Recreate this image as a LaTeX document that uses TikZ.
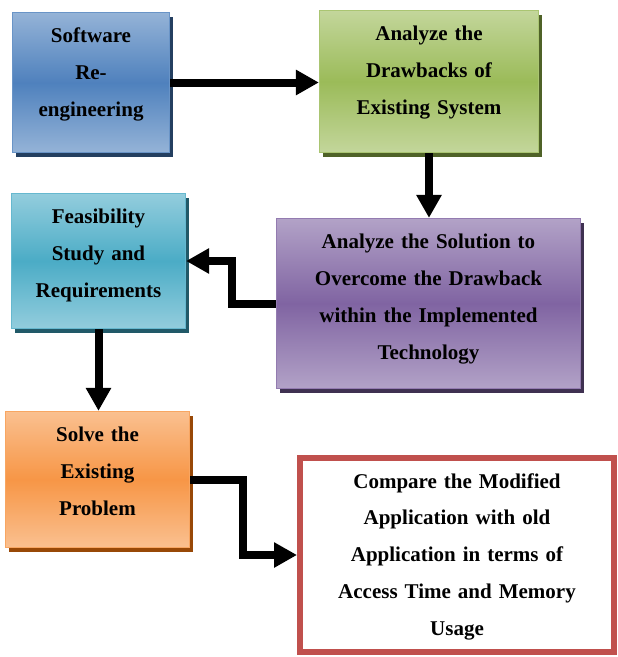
\documentclass[tikz,border=0pt]{standalone}
\usepackage{fontspec}
\setmainfont{Liberation Serif}
\usetikzlibrary{arrows.meta,shadows}
\definecolor{bluL}{HTML}{95B3D7}\definecolor{bluM}{HTML}{4F81BD}\definecolor{bluS}{HTML}{243F60}
\definecolor{grnL}{HTML}{C3D69B}\definecolor{grnM}{HTML}{9BBB59}\definecolor{grnS}{HTML}{4F6228}
\definecolor{teaL}{HTML}{93CDDD}\definecolor{teaM}{HTML}{4BACC6}\definecolor{teaS}{HTML}{215968}
\definecolor{purL}{HTML}{B2A2C7}\definecolor{purM}{HTML}{8064A2}\definecolor{purS}{HTML}{3F3151}
\definecolor{ornL}{HTML}{FAC090}\definecolor{ornM}{HTML}{F79646}\definecolor{ornS}{HTML}{984807}
\definecolor{redB}{HTML}{C0504D}
\tikzset{
  gbox/.style n args={3}{draw=#2!85!white, line width=1.2pt, inner sep=0pt,
    top color=#1, bottom color=#1, middle color=#2,
    general shadow={fill=#3, shadow xshift=3pt, shadow yshift=-4pt}},
  btxt/.style={anchor=base, inner sep=0pt, align=center, text width=310pt,
    font=\fontsize{21}{36.8}\selectfont\bfseries, text=black},
  arr/.style={line width=8pt, -{Triangle[width=24pt,length=23pt]}}
}
\begin{document}
\begin{tikzpicture}[x=1pt,y=-1pt]
\useasboundingbox (0,0) rectangle (618,657);
\node[gbox={bluL}{bluM}{bluS}, minimum width=157pt, minimum height=140pt] (b1) at (91,82.5) {};
\node[gbox={grnL}{grnM}{grnS}, minimum width=219pt, minimum height=142pt] (b2) at (429,81.5) {};
\node[gbox={purL}{purM}{purS}, minimum width=304pt, minimum height=170pt] (b3) at (428.5,303.5) {};
\node[gbox={teaL}{teaM}{teaS}, minimum width=174pt, minimum height=135pt] (b4) at (98.5,261) {};
\node[gbox={ornL}{ornM}{ornS}, minimum width=184pt, minimum height=136pt] (b5) at (97.5,479.5) {};
\node[draw=redB, line width=6pt, fill=white, inner sep=0pt, minimum width=314pt, minimum height=194pt] (b6) at (457,555) {};

\node[btxt, yshift=-31pt] (t1) at (b1.north) {Software\\Re-\\engineering};
\node[btxt, yshift=-31pt] (t2) at (b2.north) {Analyze the\\Drawbacks of\\Existing System};
\node[btxt, yshift=-31pt] (t3) at (b3.north) {Analyze the Solution to\\Overcome the Drawback\\within the Implemented\\Technology};
\node[btxt, yshift=-31pt] (t4) at (b4.north) {Feasibility\\Study and\\Requirements};
\node[btxt, yshift=-31pt] (t5) at (b5.north) {Solve the\\Existing\\Problem};
\node[btxt, yshift=-33pt] (t6) at (b6.north) {Compare the Modified\\Application with old\\Application in terms of\\Access Time and Memory\\Usage};

\coordinate (k3) at (232,0);
\coordinate (k5) at (243,0);
\draw[arr] (b1.east) -- (b1.east -| b2.west);
\draw[arr] (b2.south) -- (b2.south |- b3.north);
\draw[arr] (b3.west) -| (k3 |- b4.east) -- (b4.east);
\draw[arr] (b4.south) -- (b4.south |- b5.north);
\draw[arr] (b5.east) -| (k5 |- b6.west) -- (b6.west);
\end{tikzpicture}
\end{document}
